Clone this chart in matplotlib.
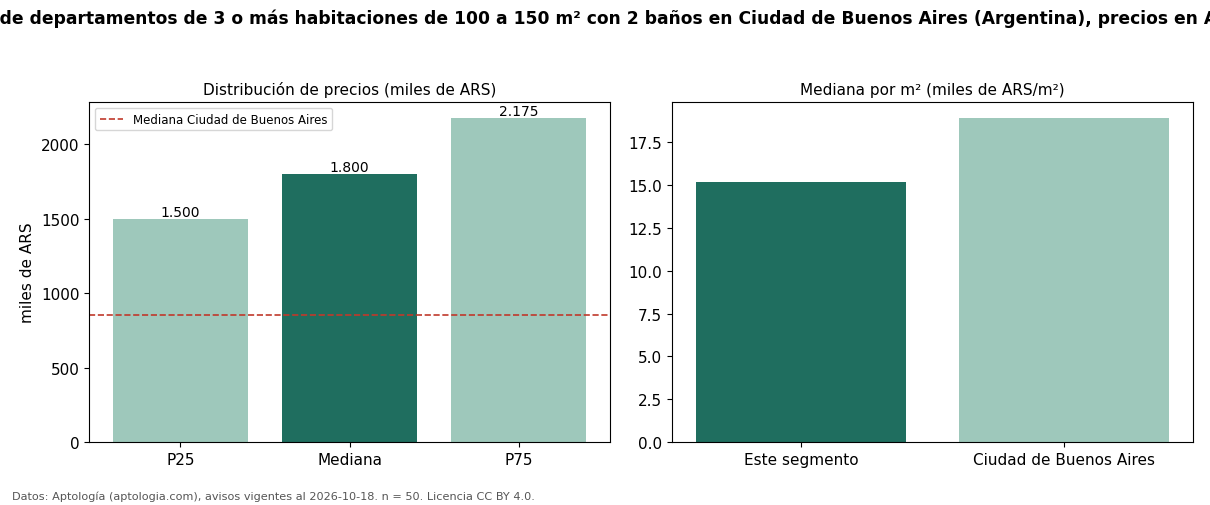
import matplotlib
matplotlib.use('Agg')
import matplotlib.pyplot as plt

# Datos
etiquetas_dist = ['P25', 'Mediana', 'P75']
precios_dist = [1500, 1800, 2175]
mediana_ciudad = 852

etiquetas_m2 = ['Este segmento', 'Ciudad de Buenos Aires']
precios_m2 = [15.17, 18.9]

prefijo = 'Precios '
titulo = (prefijo + 'de departamentos de 3 o más habitaciones de 100 a 150 m² con 2 baños '
          'en Ciudad de Buenos Aires (Argentina), precios en ARS')
nota = 'Datos: Aptología (aptologia.com), avisos vigentes al 2026-10-18. n = 50. Licencia CC BY 4.0.'

oscuro = '#1f6e5f'
claro = '#9ec8bb'
rojo = '#c0392b'

fig = plt.figure(figsize=(12.1, 5.06), dpi=100)
ax1 = fig.add_axes([0.0736, 0.1245, 0.4305, 0.6719])
ax2 = fig.add_axes([0.5554, 0.1245, 0.4306, 0.6719])

# Distribución de precios
colores = [claro, oscuro, claro]
barras = ax1.bar(etiquetas_dist, precios_dist, color=colores, width=0.8)
ax1.bar_label(barras, labels=[f'{v:,}'.replace(',', '.') for v in precios_dist], fontsize=10)
ax1.axhline(mediana_ciudad, color=rojo, linestyle='--', linewidth=1.2,
            label='Mediana Ciudad de Buenos Aires')
ax1.set_title('Distribución de precios (miles de ARS)', fontsize=11)
ax1.set_ylabel('miles de ARS', fontsize=11)
ax1.legend(loc='upper left', fontsize=8.5)
ax1.tick_params(labelsize=11)

# Mediana por m²
ax2.bar(etiquetas_m2, precios_m2, color=[oscuro, claro], width=0.8)
ax2.set_title('Mediana por m² (miles de ARS/m²)', fontsize=11)
ax2.tick_params(labelsize=11)

# título: el texto es más ancho que la figura, se recorta como en el original
tam_titulo = 12.3
renderer = fig.canvas.get_renderer()
tmp = fig.text(0, 0, prefijo, fontsize=tam_titulo, fontweight='bold')
ancho_prefijo = tmp.get_window_extent(renderer).width
tmp.remove()
fig.text(-ancho_prefijo / fig.bbox.width, 0.963, titulo, ha='left', va='center',
         fontsize=tam_titulo, fontweight='bold')
fig.text(0.01, 0.018, nota, ha='left', va='center', fontsize=8.15, color='#555555')

fig.savefig('out.png', dpi=100)
